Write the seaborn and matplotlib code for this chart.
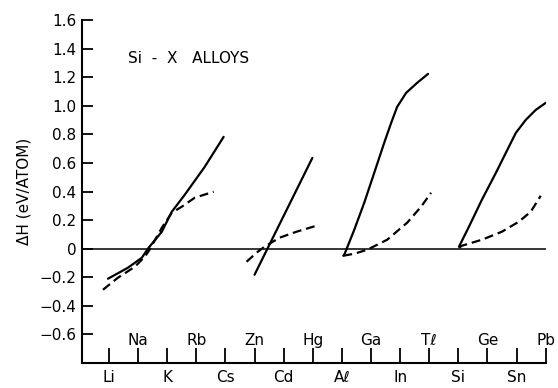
import matplotlib
matplotlib.use("Agg")
import matplotlib.pyplot as plt
import seaborn as sns
import pandas as pd

sns.set_theme(style="white")
plt.rcParams['font.family'] = ['DejaVu Sans']

# Element positions along the x-axis (1..16)
bottom_labels = ["Li", "K", "Cs", "Cd", "Aℓ", "In", "Si", "Sn"]
top_labels = ["Na", "Rb", "Zn", "Hg", "Ga", "Tℓ", "Ge", "Pb"]

yticks = [1.6, 1.4, 1.2, 1.0, 0.8, 0.6, 0.4, 0.2, 0, -0.2, -0.4, -0.6]
ytick_labels = ["1.6", "1.4", "1.2", "1.0", "0.8", "0.6", "0.4", "0.2", "0", "−0.2", "−0.4", "−0.6"]

# Alkali group
g1_solid_x = [0.966, 1.651, 2.130, 2.336, 2.815, 3.158, 3.603, 4.288, 4.938]
g1_solid_y = [-0.210, -0.133, -0.063, 0.0, 0.119, 0.259, 0.378, 0.573, 0.783]
g1_dash_x = [0.795, 1.308, 1.890, 2.233, 2.404, 2.815, 3.158, 3.500, 3.945, 4.596]
g1_dash_y = [-0.287, -0.203, -0.126, -0.056, -0.004, 0.147, 0.252, 0.294, 0.357, 0.399]

# Zn group
g2_solid_x = [6.0, 7.0, 7.986]
g2_solid_y = [-0.182, 0.230, 0.636]
g2_dash_x = [5.726, 6.068, 6.342, 6.856, 7.438, 8.123]
g2_dash_y = [-0.091, -0.028, 0.014, 0.077, 0.119, 0.161]

# Al group
g3_solid_x = [9.048, 9.082, 9.425, 9.767, 10.110, 10.452, 10.692, 10.897, 11.205, 11.582, 11.959]
g3_solid_y = [-0.049, -0.042, 0.133, 0.322, 0.531, 0.741, 0.881, 0.993, 1.091, 1.161, 1.224]
g3_dash_x = [9.048, 9.425, 9.870, 10.555, 11.240, 11.719, 12.062]
g3_dash_y = [-0.049, -0.035, -0.007, 0.063, 0.182, 0.294, 0.392]

# Si group
g4_solid_x = [13.021, 13.363, 13.808, 14.288, 14.630, 14.973, 15.315, 15.658, 16.0]
g4_solid_y = [0.014, 0.154, 0.343, 0.531, 0.671, 0.811, 0.902, 0.972, 1.021]
g4_dash_x = [13.021, 13.123, 13.808, 14.493, 15.075, 15.486, 15.829]
g4_dash_y = [0.007, 0.021, 0.063, 0.119, 0.189, 0.259, 0.371]

fig = plt.figure(figsize=(5.58, 3.88), dpi=100)
ax = fig.add_axes([0.147, 0.0644, 0.831, 0.8836])

curves = [
    (g1_solid_x, g1_solid_y, "-"), (g1_dash_x, g1_dash_y, "--"),
    (g2_solid_x, g2_solid_y, "-"), (g2_dash_x, g2_dash_y, "--"),
    (g3_solid_x, g3_solid_y, "-"), (g3_dash_x, g3_dash_y, "--"),
    (g4_solid_x, g4_solid_y, "-"), (g4_dash_x, g4_dash_y, "--"),
]
for cx, cy, ls in curves:
    df = pd.DataFrame({"x": cx, "y": cy})
    sns.lineplot(data=df, x="x", y="y", ax=ax, color="black", sort=False,
                 estimator=None, linewidth=1.6, linestyle=ls)
    ln = ax.lines[-1]
    ln.set_solid_joinstyle("round")
    ln.set_dash_joinstyle("round")
    if ls == "--":
        ln.set_dashes([4, 2.2])

ax.axhline(0, color="black", linewidth=1.1, xmin=0, xmax=1)

ax.set_xlim(0.075, 16)
ax.set_ylim(-0.8, 1.6)

ax.set_yticks(yticks)
ax.set_yticklabels(ytick_labels, fontsize=11)
ax.set_xticks(range(1, 17, 2))
ax.set_xticklabels(bottom_labels, fontsize=11)
ax.set_xticks(range(2, 17, 2), minor=True)
for xi, lab in zip(range(2, 17, 2), top_labels):
    ax.text(xi, -0.64, lab, ha="center", va="center", fontsize=11, color="black")

ax.tick_params(axis="y", direction="in", length=8, width=1.3, pad=4, left=True, colors="black")
ax.tick_params(axis="x", which="both", direction="in", length=11, width=1.3, pad=5, bottom=True, colors="black")

for s in ["top", "right"]:
    ax.spines[s].set_visible(False)
for s in ["left", "bottom"]:
    ax.spines[s].set_color("black")
    ax.spines[s].set_linewidth(1.5)

ax.set_xlabel("")
ax.set_ylabel("ΔH (eV/ATOM)", fontsize=11, labelpad=6, color="black")
ax.text(1.65, 1.335, "Si  -  X   ALLOYS", fontsize=11, ha="left", va="center", color="black")

ax.grid(False)
fig.savefig("out.png", dpi=100)
